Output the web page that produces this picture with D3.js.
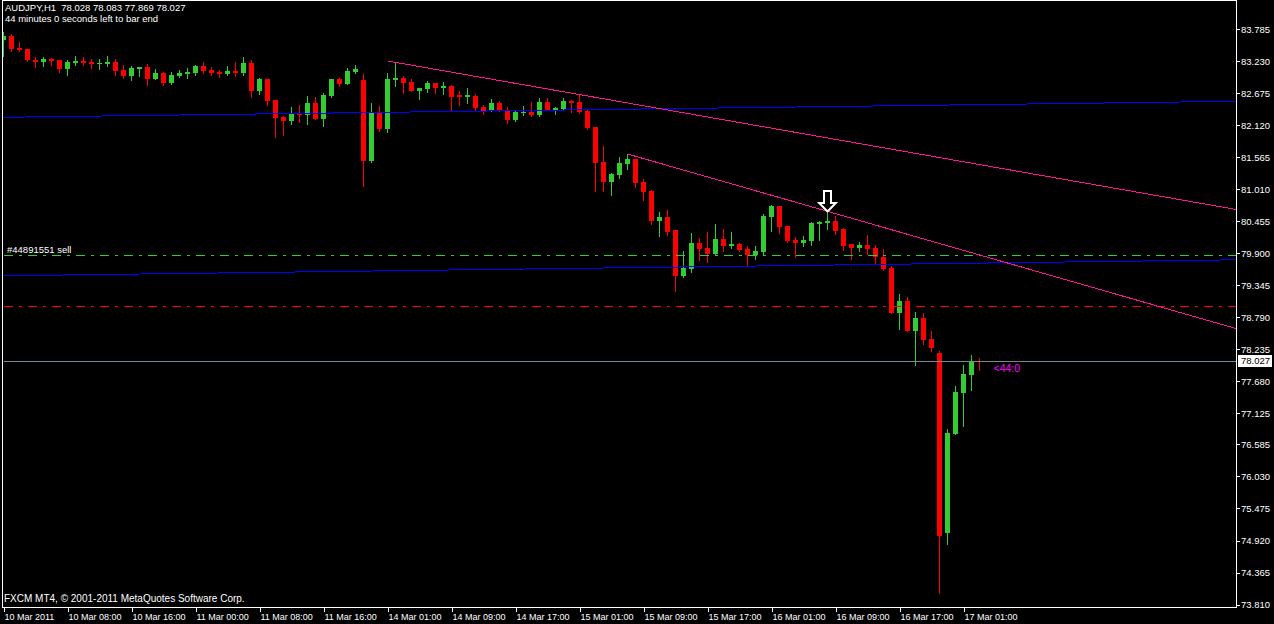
<!DOCTYPE html>
<html><head><meta charset="utf-8">
<script src="https://cdn.jsdelivr.net/npm/d3@7"></script>
<style>html,body{margin:0;padding:0;background:#000;overflow:hidden}svg{display:block}</style>
</head><body>
<svg id="c" width="1274" height="624"></svg>
<script>
// ---------- DATA ----------
const symbol = "AUDJPY,H1";
const timerLine = "44 minutes 0 seconds left to bar end";
const copyright = "FXCM MT4, \u00A9 2001-2011 MetaQuotes Software Corp.";
const open = [83.594,83.664,83.456,83.438,83.248,83.213,83.265,83.248,83.092,83.196,
83.231,83.213,83.190,83.179,83.213,83.075,82.971,83.092,83.127,82.919,
83.023,82.849,82.971,83.005,83.023,83.144,83.075,83.040,83.005,83.057,
83.023,83.196,82.711,82.919,82.555,82.260,82.191,82.312,82.295,82.503,
82.225,82.624,82.919,82.832,83.040,82.901,81.497,82.329,82.052,82.901,
82.936,82.867,82.711,82.745,82.849,82.763,82.797,82.641,82.607,82.624,
82.433,82.364,82.503,82.364,82.208,82.329,82.347,82.295,82.520,82.381,
82.399,82.537,82.520,82.364,82.087,81.480,81.133,81.255,81.445,81.532,
81.133,80.977,80.457,80.527,80.301,79.504,79.626,80.076,79.989,79.885,
80.145,80.024,80.059,79.972,79.868,79.920,80.527,80.717,80.371,80.128,
80.076,80.111,80.405,80.423,80.457,80.319,80.059,79.989,80.041,79.989,
79.834,79.643,78.863,79.073,78.551,78.776,78.412,78.170,75.050,76.766,
77.477,77.788,78.028];
const high = [83.733,83.698,83.560,83.438,83.300,83.300,83.283,83.248,83.248,83.317,
83.300,83.265,83.265,83.317,83.265,83.161,83.144,83.127,83.179,83.092,
83.040,83.040,83.075,83.109,83.161,83.213,83.127,83.075,83.144,83.213,
83.300,83.248,82.936,82.919,82.555,82.277,82.433,82.468,82.624,82.607,
82.676,82.919,82.936,83.109,83.161,83.005,82.503,82.451,83.023,83.213,
82.971,82.919,82.763,82.884,82.849,82.867,82.815,82.711,82.763,82.659,
82.468,82.572,82.537,82.433,82.364,82.451,82.520,82.589,82.589,82.433,
82.589,82.555,82.641,82.381,82.087,81.757,81.289,81.567,81.619,81.532,
81.185,80.995,80.613,80.648,80.301,79.937,80.249,80.163,80.267,80.405,
80.319,80.267,80.076,80.024,80.024,80.579,80.735,80.717,80.371,80.180,
80.197,80.440,80.457,80.596,80.544,80.336,80.059,80.093,80.215,80.041,
79.972,79.678,79.194,79.143,78.880,78.863,78.551,78.204,76.852,77.598,
77.962,78.135,78.083];
const low = [83.317,83.404,83.404,83.231,83.127,83.144,83.161,83.040,82.988,83.161,
83.161,83.109,83.092,83.144,82.988,82.936,82.901,82.971,82.815,82.919,
82.815,82.832,82.953,82.936,82.988,83.023,82.988,82.953,82.988,82.971,
82.988,82.607,82.659,82.468,81.913,81.948,82.139,82.173,82.139,82.225,
82.104,82.607,82.797,82.832,83.023,81.064,81.480,82.017,82.000,82.797,
82.676,82.711,82.572,82.693,82.676,82.659,82.364,82.468,82.503,82.364,
82.312,82.364,82.364,82.156,82.191,82.295,82.277,82.277,82.381,82.312,
82.399,82.347,82.329,82.052,80.977,80.977,80.908,81.203,81.359,81.047,
80.821,80.405,80.197,80.215,79.246,79.487,79.573,79.782,79.747,79.868,
79.937,79.989,79.937,79.678,79.799,79.868,80.284,80.249,80.093,79.834,
80.024,80.041,80.128,80.319,80.232,79.955,79.799,79.937,79.885,79.730,
79.608,78.863,78.586,78.551,77.962,78.326,78.204,74.010,74.859,76.766,
76.905,77.529,77.869];
const close = [83.664,83.438,83.421,83.248,83.213,83.265,83.231,83.092,83.213,83.231,
83.196,83.179,83.196,83.213,83.057,82.971,83.109,83.127,82.919,83.023,
82.849,82.988,83.023,83.040,83.144,83.057,83.023,83.005,83.057,83.023,
83.196,82.711,82.919,82.537,82.243,82.191,82.329,82.295,82.503,82.225,
82.641,82.919,82.832,83.057,83.092,81.497,82.329,82.052,82.919,82.936,
82.849,82.711,82.763,82.849,82.763,82.797,82.607,82.607,82.641,82.416,
82.364,82.503,82.364,82.208,82.347,82.340,82.295,82.520,82.381,82.416,
82.537,82.503,82.347,82.069,81.463,81.133,81.272,81.463,81.532,81.116,
80.960,80.457,80.527,80.267,79.504,79.643,80.076,79.972,79.885,80.145,
80.024,80.059,79.955,79.868,79.937,80.544,80.717,80.353,80.111,80.076,
80.128,80.423,80.440,80.457,80.284,80.024,79.989,80.041,79.972,79.834,
79.626,78.863,79.073,78.551,78.776,78.395,78.257,74.998,76.783,77.494,
77.806,78.031,78.027];
const timeLabels = ["10 Mar 2011","10 Mar 08:00","10 Mar 16:00","11 Mar 00:00","11 Mar 08:00",
"11 Mar 16:00","14 Mar 01:00","14 Mar 09:00","14 Mar 17:00","15 Mar 01:00","15 Mar 09:00",
"15 Mar 17:00","16 Mar 01:00","16 Mar 09:00","16 Mar 17:00","17 Mar 01:00"];
const timeLabelBars = [0,8,16,24,32,40,48,56,64,72,80,88,96,104,112,120];
const priceTicks = [83.785,83.230,82.675,82.120,81.565,81.010,80.455,79.900,79.345,78.790,
78.235,77.680,77.125,76.585,76.030,75.475,74.920,74.365,73.810];
const bidPrice = 78.027;
const orderPrice = 79.86;
const orderLabel = "#44891551 sell";
const stopPrice = 78.98;
const trendA = [[48, 83.231], [154, 80.659]];
const trendB = [[78, 81.619], [154, 78.596]];
const channelUpper = [[0, 82.255], [154, 82.532]];
const channelLower = [[0, 79.508], [154, 79.785]];
const arrowBar = 103;
const timerText = "<44:0";

// ---------- CHART ----------
const W = 1274, H = 624;
const plotL = 2.5, plotR = 1236.5, plotB = 607.5;
const svg = d3.select("#c");
svg.append("rect").attr("width", W).attr("height", H).attr("fill", "#000");
const FONT = "'Liberation Sans', Arial, sans-serif";
const FS = "9.5px";

const x = d3.scaleLinear().domain([0, 154]).range([3.5, 3.5 + 8 * 154]);
const y = d3.scaleLinear().domain([73.810, 83.785]).range([29 + 9.975 * 57.7, 29]);

svg.append("clipPath").attr("id", "plot").append("rect")
  .attr("x", 3).attr("y", 0).attr("width", plotR - 3).attr("height", plotB);

const g = svg.append("g").attr("clip-path", "url(#plot)").attr("shape-rendering", "crispEdges");

const bars = d3.range(open.length).map(i => ({i, o: open[i], h: high[i], l: low[i], c: close[i]}));
const UP = "#32cd32", DN = "#ff0000";
const cg = g.append("g");
cg.selectAll("rect.wick").data(bars).join("rect").attr("class", "wick")
  .attr("x", d => x(d.i) - 0.5).attr("width", 1)
  .attr("y", d => Math.round(y(d.h)))
  .attr("height", d => Math.max(1, Math.round(y(d.l)) - Math.round(y(d.h)) + 1))
  .attr("fill", d => d.c >= d.o ? UP : DN);
cg.selectAll("rect.body").data(bars).join("rect").attr("class", "body")
  .attr("x", d => x(d.i) - 2.5).attr("width", 5)
  .attr("y", d => Math.round(y(Math.max(d.o, d.c))))
  .attr("height", d => Math.max(1, Math.round(y(Math.min(d.o, d.c))) - Math.round(y(Math.max(d.o, d.c)))))
  .attr("fill", d => d.c >= d.o ? UP : DN);

// line helpers
function lineAt(pts, idx) {
  const [[i0, p0], [i1, p1]] = pts;
  return p0 + (p1 - p0) * (idx - i0) / (i1 - i0);
}
const lastIdx = x.invert(plotR);
function drawSeg(pts, fromIdx, toIdx, color) {
  g.append("line")
    .attr("x1", x(fromIdx)).attr("y1", y(lineAt(pts, fromIdx)))
    .attr("x2", x(toIdx)).attr("y2", y(lineAt(pts, toIdx)))
    .attr("stroke", color).attr("stroke-width", 1);
}
drawSeg(channelUpper, x.invert(3), lastIdx, "#0000ff");
drawSeg(channelLower, x.invert(3), lastIdx, "#0000ff");

function hLine(price, color, dash) {
  const yy = Math.floor(y(price)) + 0.5;
  const l = g.append("line").attr("x1", 4).attr("x2", plotR).attr("y1", yy).attr("y2", yy)
    .attr("stroke", color).attr("stroke-width", 1);
  if (dash) l.attr("stroke-dasharray", dash);
}
hLine(orderPrice, UP, "9,6,3,6");
hLine(stopPrice, DN, "9,6,3,6");

drawSeg(trendA, trendA[0][0], lastIdx, "#ff1493");
drawSeg(trendB, trendB[0][0], lastIdx, "#ff1493");

hLine(bidPrice, "#778899", null);

// arrow above bar
const ax = x(arrowBar), ay = Math.round(y(high[arrowBar]));
svg.append("path")
  .attr("d", "M0,-1.5 L-8.3,-10 L-3.5,-10 L-3.5,-22 L3.5,-22 L3.5,-10 L8.3,-10 Z")
  .attr("transform", `translate(${ax},${ay})`)
  .attr("fill", "#000").attr("stroke", "#fff").attr("stroke-width", 2)
  .attr("stroke-linejoin", "miter");

// texts
svg.append("text").attr("x", 7).attr("y", Math.round(y(orderPrice)) - 2.5)
  .attr("fill", "#fff").attr("font-family", FONT).attr("font-size", FS).text(orderLabel);
svg.append("text").attr("x", x(open.length - 1) + 14).attr("y", y(bidPrice) + 11)
  .attr("fill", "#ff00ff").attr("font-family", FONT).attr("font-size", "10.5px").text(timerText);

const n = open.length - 1;
const f3 = d3.format(".3f");
svg.append("text").attr("x", 5).attr("y", 11).attr("fill", "#fff")
  .attr("font-family", FONT).attr("font-size", FS).attr("xml:space", "preserve")
  .text(`${symbol}  ${f3(open[n])} ${f3(high[n])} ${f3(low[n])} ${f3(close[n])}`);
svg.append("text").attr("x", 5).attr("y", 22).attr("fill", "#fff")
  .attr("font-family", FONT).attr("font-size", FS).text(timerLine);
svg.append("text").attr("x", 4).attr("y", 602).attr("fill", "#fff")
  .attr("font-family", FONT).attr("font-size", "10px").text(copyright);

// frame
const fr = svg.append("g").attr("shape-rendering", "crispEdges").attr("stroke", "#fff").attr("stroke-width", 1);
fr.append("line").attr("x1", plotL).attr("x2", plotL).attr("y1", 0).attr("y2", plotB);
fr.append("line").attr("x1", plotR).attr("x2", plotR).attr("y1", 0).attr("y2", plotB);
fr.append("line").attr("x1", plotL).attr("x2", plotR).attr("y1", plotB).attr("y2", plotB);
fr.append("line").attr("x1", plotL).attr("x2", plotR).attr("y1", 0.5).attr("y2", 0.5);

// right axis
const ya = svg.append("g").attr("transform", `translate(${plotR},0)`)
  .call(d3.axisRight(y).tickValues(priceTicks).tickFormat(f3).tickSize(3).tickSizeOuter(0));
ya.select(".domain").remove();
ya.selectAll("line").attr("stroke", "#fff").attr("shape-rendering", "crispEdges");
ya.selectAll("text").attr("fill", "#fff").attr("x", 4.5).attr("font-family", FONT).attr("font-size", FS);

// bid label box
const by = y(bidPrice);
svg.append("rect").attr("x", 1238).attr("y", Math.round(by) - 6).attr("width", 34).attr("height", 12)
  .attr("fill", "#fff").attr("shape-rendering", "crispEdges");
svg.append("text").attr("x", 1241).attr("y", by).attr("dy", "0.34em").attr("fill", "#000")
  .attr("font-family", FONT).attr("font-size", FS).text(f3(bidPrice));

// bottom axis
const xa = svg.append("g").attr("transform", `translate(0,${plotB})`)
  .call(d3.axisBottom(x).tickValues(timeLabelBars).tickFormat((d, i) => timeLabels[i]).tickSize(4).tickSizeOuter(0));
xa.select(".domain").remove();
xa.selectAll("line").attr("stroke", "#fff").attr("shape-rendering", "crispEdges");
xa.selectAll("text").attr("fill", "#fff").attr("text-anchor", "start").attr("x", 0.5).attr("y", 12.5).attr("dy", 0)
  .attr("font-family", FONT).attr("font-size", "9px");
</script>
</body></html>
